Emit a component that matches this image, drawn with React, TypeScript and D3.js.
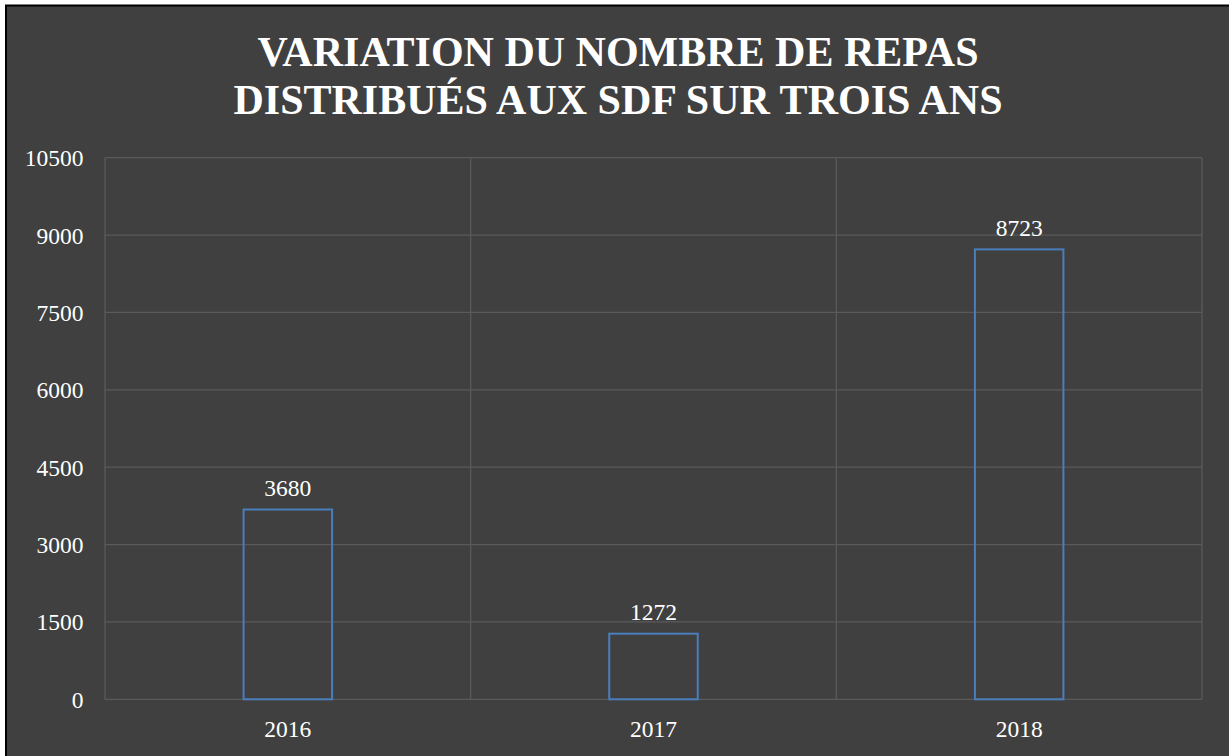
import React from "react";
import * as d3 from "d3";

const categories = ["2016", "2017", "2018"];
const values = [3680, 1272, 8723];
const yTicks = [0, 1500, 3000, 4500, 6000, 7500, 9000, 10500];
const titleLines = ["VARIATION DU NOMBRE DE REPAS", "DISTRIBUÉS AUX SDF SUR TROIS ANS"];

export default function App() {
  const W = 1229;
  const H = 756;
  const left = 105;
  const right = 1202;
  const top = 157.7;
  const bottom = 699.3;
  const x = d3.scaleBand<string>().domain(categories).range([left, right]).paddingInner(0).paddingOuter(0);
  const y = d3.scaleLinear().domain([0, 10500]).range([bottom, top]);
  const bw = x.bandwidth() * 0.242;
  const font = "'Liberation Serif', 'Times New Roman', serif";
  const grid = "#5a5a5a";
  const fs = 23.5;
  const boundaries = [...categories.map((c) => x(c) as number), right];

  return (
    <div style={{ position: "fixed", left: 0, top: 0, width: W, height: H, background: "#fff" }}>
      <svg width={W} height={H} style={{ display: "block" }}>
        <rect x={6} y={5.5} width={W + 20} height={H + 20} fill="#404040" stroke="#000" strokeWidth={2} />
        {titleLines.map((t, i) => (
          <text
            key={i}
            x={618}
            y={66 + i * 48}
            textAnchor="middle"
            fill="#fff"
            fontFamily={font}
            fontWeight="bold"
            fontSize={42}
          >
            {t}
          </text>
        ))}
        {yTicks.map((t) => (
          <g key={t}>
            <line x1={left} x2={right} y1={y(t)} y2={y(t)} stroke={grid} strokeWidth={1.3} />
            <text x={83.5} y={y(t) + 8.5} textAnchor="end" fill="#fff" fontFamily={font} fontSize={fs}>
              {t}
            </text>
          </g>
        ))}
        {boundaries.map((b, i) => (
          <line key={i} x1={b} x2={b} y1={top} y2={bottom} stroke={grid} strokeWidth={1.3} />
        ))}
        {categories.map((c, i) => {
          const cx = (x(c) as number) + x.bandwidth() / 2;
          return (
            <g key={c}>
              <rect
                x={cx - bw / 2}
                y={y(values[i])}
                width={bw}
                height={bottom - y(values[i])}
                fill="none"
                stroke="#4a7ebb"
                strokeWidth={2}
              />
              <text x={cx} y={y(values[i]) - 13.3} textAnchor="middle" fill="#fff" fontFamily={font} fontSize={fs}>
                {values[i]}
              </text>
              <text x={cx} y={736.5} textAnchor="middle" fill="#fff" fontFamily={font} fontSize={fs}>
                {c}
              </text>
            </g>
          );
        })}
      </svg>
    </div>
  );
}
